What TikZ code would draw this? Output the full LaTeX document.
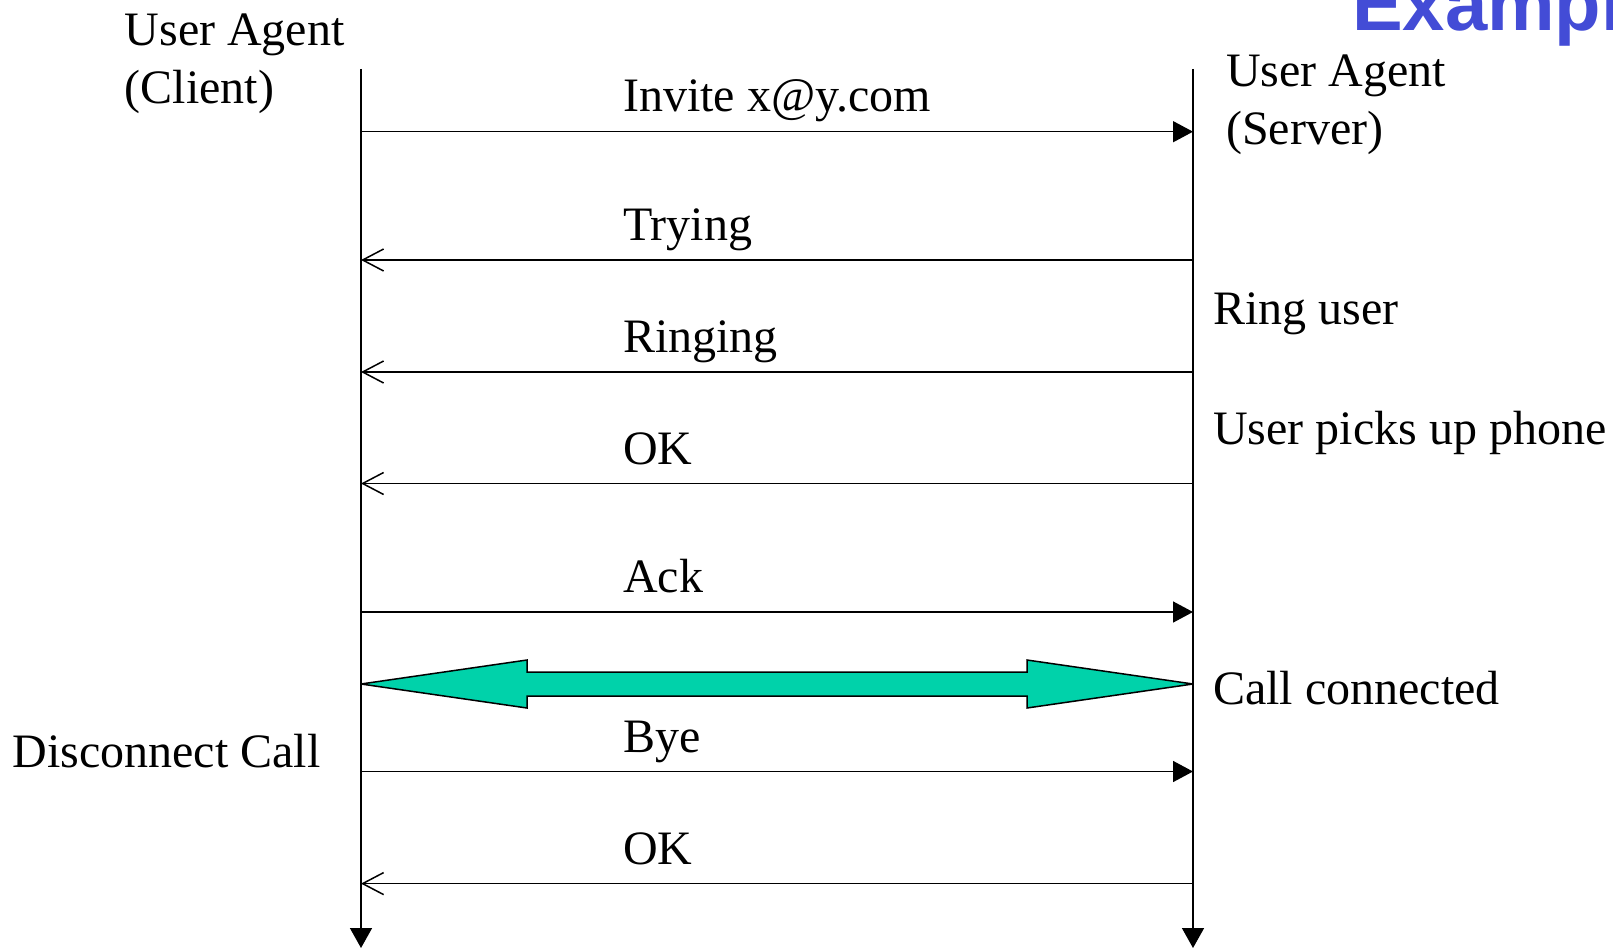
\documentclass[tikz,border=0pt]{standalone}
\usepackage{fontspec}
\setmainfont{Liberation Serif}
\newfontfamily\titlefont{Liberation Sans}
\usetikzlibrary{arrows.meta}
\definecolor{titleblue}{RGB}{67,76,214}
\definecolor{callgreen}{RGB}{0,210,170}
\tikzset{
  lbl/.style={anchor=base west,inner sep=0pt,font=\fontsize{48}{58}\selectfont},
  lifeline/.style={line width=1.5pt,-{Triangle[length=20pt,width=22pt]}},
  req/.style={line width=1.5pt,-{Triangle[length=20pt,width=21pt]}},
  resp/.style={line width=1.5pt,-{Straight Barb[length=21pt,width=22pt]}},
  callbar/.style={fill=callgreen,draw=black,line width=1.5pt,line join=miter,miter limit=2}
}
\begin{document}
\begin{tikzpicture}[x=1pt,y=-1pt]
  \useasboundingbox (0,0) rectangle (1613,947);

  % title, running off the page edge
  \node[anchor=base west,inner sep=0pt,text=titleblue,
        font=\titlefont\bfseries\fontsize{76}{80}\selectfont] (title) at (1352,31) {Example};

  % lifelines
  \coordinate (ctop) at (361,69);
  \coordinate (cbot) at (361,948);
  \coordinate (stop) at (1193,69);
  \coordinate (sbot) at (1193,948);
  \draw[lifeline] (ctop) -- (cbot);
  \draw[lifeline] (stop) -- (sbot);

  % end points of the messages on both lifelines
  \foreach \n/\y in {1/131.7,2/260,3/372,4/483.5,5/612,6/684,7/771.5,8/883.6}{
    \coordinate (c\n) at (361,\y);
    \coordinate (s\n) at (1193,\y);
  }

  % participants
  \node[lbl] (ua1) at (124.5,46) {User Agent};
  \node[lbl] (ua2) at (124.5,103) {(Client)};
  \node[lbl] (us1) at (1226,87) {User Agent};
  \node[lbl] (us2) at (1226,144) {(Server)};

  % messages
  \draw[req]  (c1) -- (s1);
  \node[lbl] (m1) at (623,112) {Invite x@y.com};
  \draw[resp] (s2) -- (c2);
  \node[lbl] (m2) at (623,240) {Trying};
  \draw[resp] (s3) -- (c3);
  \node[lbl] (m3) at (623,352) {Ringing};
  \draw[resp] (s4) -- (c4);
  \node[lbl] (m4) at (623,464) {OK};
  \draw[req]  (c5) -- (s5);
  \node[lbl] (m5) at (623,592) {Ack};
  \draw[req]  (c7) -- (s7);
  \node[lbl] (m7) at (623,752) {Bye};
  \draw[resp] (s8) -- (c8);
  \node[lbl] (m8) at (623,864) {OK};

  % media path while the call is up
  \draw[callbar] (c6) -- (527,660) -- (527,672) -- (1027,672) -- (1027,660)
     -- (s6) -- (1027,708) -- (1027,696) -- (527,696) -- (527,708) -- cycle;

  % side notes
  \node[lbl] (n1) at (1213,324) {Ring user};
  \node[lbl] (n2) at (1213,444) {User picks up phone};
  \node[lbl] (n3) at (1213,704) {Call connected};
  \node[lbl] (n4) at (12.3,767) {Disconnect Call};
\end{tikzpicture}
\end{document}
